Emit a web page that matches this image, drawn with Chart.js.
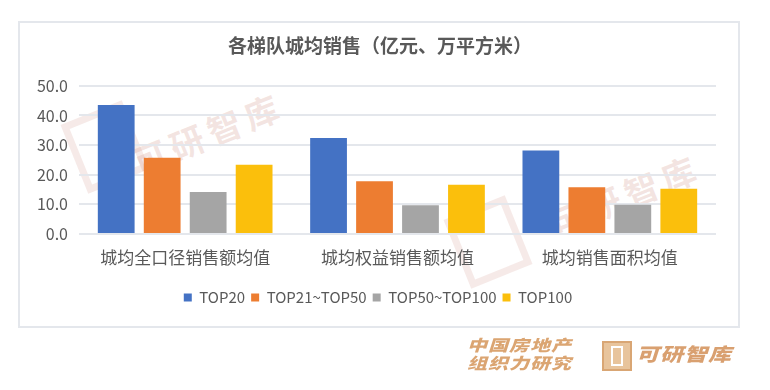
<!DOCTYPE html>
<html>
<head>
<meta charset="utf-8">
<script src="https://cdn.jsdelivr.net/npm/chart.js@4.4.0/dist/chart.umd.min.js"></script>
<style>
  body { margin: 0; background: #fff; font-family: "Noto Sans CJK SC", "Noto Sans", sans-serif; }
  #wrap { position: relative; width: 770px; height: 390px; overflow: hidden; }
  #frame { position: absolute; left: 18px; top: 21px; width: 718px; height: 303px; border: 2px solid #e4e7ec; }
  #chart { position: absolute; left: 0; top: 0; }
  .wm { position: absolute; color: rgba(214, 160, 150, 0.28); font-weight: bold; font-size: 34px; letter-spacing: 6px; white-space: nowrap; transform: rotate(-22deg); }
  .wm-box { position: absolute; width: 52px; height: 60px; border: 7px solid rgba(214, 160, 150, 0.22); transform: rotate(-22deg); }
  #brand1 { position: absolute; left: 467px; top: 335px; color: #dba572; font-weight: 900; font-style: italic; font-size: 20px; line-height: 24px; letter-spacing: 1px; transform: scaleY(0.78); transform-origin: top left; }
  #brandBox { position: absolute; left: 602px; top: 341px; width: 26px; height: 26px; border: 2px solid #d9a674; background: #e8c49c; }
  #brandBox span { position: absolute; left: 7px; top: 3px; width: 12px; height: 20px; border: 2px solid #fff; box-sizing: border-box; }
  #brand2 { position: absolute; left: 636px; top: 343px; color: #d9a070; font-weight: 900; font-style: italic; font-size: 23px; line-height: 24px; letter-spacing: 1px; transform: scaleY(0.8); transform-origin: top left; }
</style>
</head>
<body>
<div id="wrap">
  <div id="frame"></div>
  <div class="wm-box" style="left:72px;top:110px;"></div>
  <div class="wm" style="left:128px;top:108px;">可研智库</div>
  <div class="wm-box" style="left:455px;top:205px;"></div>
  <div class="wm" style="left:545px;top:170px;">可研智库</div>
  <canvas id="chart" width="770" height="390"></canvas>
  <div id="brand1">中国房地产<br>组织力研究</div>
  <div id="brandBox"><span></span></div>
  <div id="brand2">可研智库</div>
</div>
<script>
const categories = ["城均全口径销售额均值", "城均权益销售额均值", "城均销售面积均值"];
const seriesNames = ["TOP20", "TOP21~TOP50", "TOP50~TOP100", "TOP100"];
const top20 = [43.5, 32.4, 28.2];
const top21to50 = [25.7, 17.8, 15.8];
const top50to100 = [14.2, 9.7, 9.9];
const top100 = [23.4, 16.6, 15.3];
const yTicks = [0, 10, 20, 30, 40, 50];

const seriesValues = [top20, top21to50, top50to100, top100];
const seriesColors = ["#4472c4", "#ed7d31", "#a5a5a5", "#fbbf0c"];

const textColor = "#595959";
const fontFamily = '"Noto Sans CJK SC", "Noto Sans", sans-serif';

// title and legend are centred in the frame, not over the plot area
const shiftBlocks = {
  id: "shiftBlocks",
  afterUpdate(chart) {
    const lg = chart.legend;
    lg.left += 20;
    lg.right += 20;
    lg.adjustHitBoxes();
    const tb = chart.titleBlock;
    tb.left += 22;
    tb.right += 22;
  },
};

new Chart(document.getElementById("chart"), {
  type: "bar",
  plugins: [shiftBlocks],
  data: {
    labels: categories,
    datasets: seriesNames.map((name, i) => ({
      label: name,
      data: seriesValues[i],
      backgroundColor: seriesColors[i],
      barPercentage: 0.8,
      categoryPercentage: 0.866,
    })),
  },
  options: {
    responsive: false,
    animation: false,
    layout: { padding: { left: 0, right: 54, top: 0, bottom: 75 } },
    plugins: {
      tooltip: { enabled: false },
      title: {
        display: true,
        text: "各梯队城均销售（亿元、万平方米）",
        color: textColor,
        font: { family: fontFamily, size: 19, weight: "bold" },
        padding: { top: 34, bottom: 29 },
      },
      legend: {
        position: "bottom",
        labels: {
          color: textColor,
          font: { family: fontFamily, size: 15 },
          boxWidth: 8,
          boxHeight: 8,
          padding: 6,
        },
      },
    },
    scales: {
      x: {
        grid: { display: false },
        border: { display: false },
        ticks: { color: textColor, font: { family: fontFamily, size: 17 }, padding: 5 },
        afterFit: (scale) => { scale.height = 50; },
      },
      y: {
        min: 0,
        max: 50,
        afterBuildTicks: (scale) => { scale.ticks = yTicks.map((v) => ({ value: v })); },
        grid: { color: "#e4e7ec", lineWidth: 2, drawTicks: false },
        border: { display: false },
        ticks: {
          color: textColor,
          font: { family: fontFamily, size: 16 },
          padding: 11,
          callback: (v) => v.toFixed(1),
        },
        afterFit: (scale) => { scale.width = 79; },
      },
    },
  },
});
</script>
</body>
</html>
